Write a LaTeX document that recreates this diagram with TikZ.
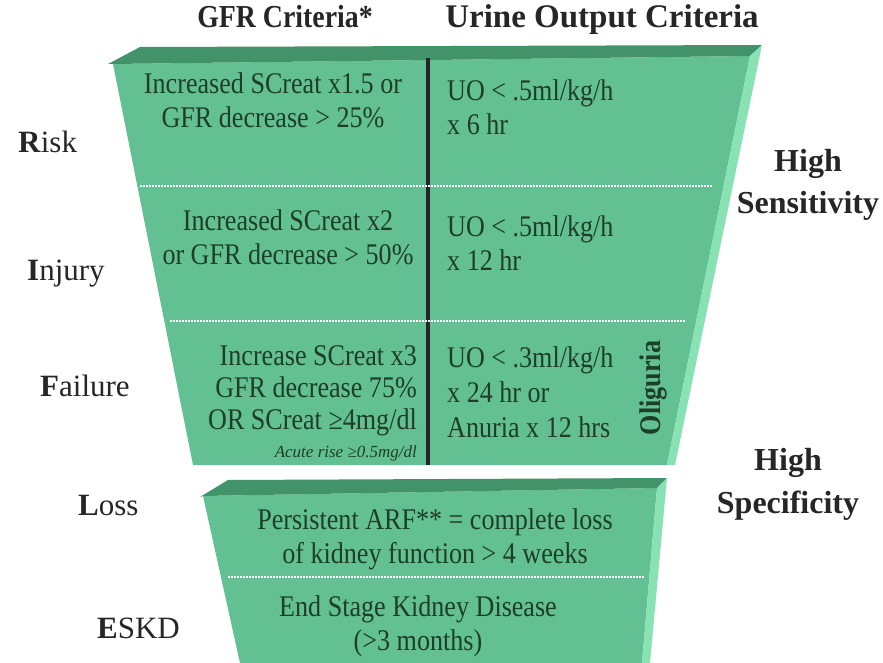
\documentclass[tikz,border=0pt]{standalone}
\usepackage{fontspec}
\setmainfont{Liberation Serif}
\newfontfamily\narrowfont{Liberation Serif}[FakeStretch=0.87]
\usepackage{tikz}
\usetikzlibrary{positioning}

\definecolor{rifgreen}{RGB}{98,192,146}
\definecolor{riftop}{RGB}{66,146,106}
\definecolor{rifedge}{RGB}{136,226,180}
\definecolor{rifink}{RGB}{30,62,42}
\definecolor{labelink}{RGB}{38,38,38}

\begin{document}
\begin{tikzpicture}[
  x=1pt, y=-1pt,
  crit/.style={font=\narrowfont\fontsize{30}{34}\selectfont, text=rifink, inner sep=0pt},
  stage/.style={font=\rmfamily\fontsize{31}{34}\selectfont, text=labelink, inner sep=0pt, anchor=base west},
  side/.style={font=\rmfamily\bfseries\fontsize{32}{43}\selectfont, text=labelink, inner sep=0pt, align=center, anchor=base},
  head/.style={font=\rmfamily\bfseries\fontsize{33}{34}\selectfont, text=labelink, inner sep=0pt, anchor=base},
  sep/.style={white, line width=2.6pt, dash pattern=on 1.5pt off 1.5pt},
]
\useasboundingbox (0,0) rectangle (883,663);

% Upper funnel
\fill[rifgreen] (113,64) -- (750,56) -- (667,465) -- (193,465) -- cycle;
\fill[riftop] (108,64) -- (140,47) -- (762,45) -- (750,56) -- (113,64) -- cycle;
\fill[rifedge] (750,56) -- (762,45) -- (675,465) -- (667,465) -- cycle;

% Lower block
\fill[rifgreen] (203,496) -- (657,488) -- (642,663) -- (240,663) -- cycle;
\fill[riftop] (200,497) -- (228,480) -- (667,478) -- (657,488) -- (203,496) -- cycle;
\fill[rifedge] (657,488) -- (667,478) -- (650,663) -- (642,663) -- cycle;

% Divider and row separators
\draw[line width=4pt, black!85] (428,58) -- (428,465);
\draw[sep] (140,186) -- (712,186);
\draw[sep] (170,321) -- (686,321);
\draw[sep] (228,577) -- (645,577);

% Headers
\node[head, font=\narrowfont\bfseries\fontsize{32}{34}\selectfont] (gfrhead) at (285,28) {GFR Criteria*};
\node[head] (uohead) at (602,28) {Urine Output Criteria};

% Risk
\node[crit, align=center, anchor=base] (riskgfr) at (273,128)
  {Increased SCreat x1.5 or\\GFR decrease > 25\%};
\node[crit, align=left, anchor=base west] (riskuo) at (447,135)
  {UO < .5ml/kg/h\\x 6 hr};

% Injury
\node[crit, align=center, anchor=base] (injgfr) at (288,264)
  {Increased SCreat x2\\or GFR decrease > 50\%};
\node[crit, align=left, anchor=base west] (injuo) at (447,270)
  {UO < .5ml/kg/h\\x 12 hr};

% Failure
\node[crit, align=right, anchor=base east, font=\narrowfont\fontsize{30}{32}\selectfont] (failgfr) at (417,429)
  {Increase SCreat x3\\GFR decrease 75\%\\OR SCreat ≥4mg/dl};
\node[crit, anchor=base east, font=\rmfamily\itshape\fontsize{17}{18}\selectfont] (acute) at (417,457)
  {Acute rise ≥0.5mg/dl};
\node[crit, align=left, anchor=base west, font=\narrowfont\fontsize{30}{35}\selectfont] (failuo) at (447,437)
  {UO < .3ml/kg/h\\x 24 hr or\\Anuria x 12 hrs};
\node[crit, font=\narrowfont\bfseries\fontsize{30}{32}\selectfont, rotate=90] (oliguria) at (653,388) {Oliguria};

% Loss and ESKD
\node[crit, align=center, anchor=base] (loss) at (435,563)
  {Persistent ARF** = complete loss\\of kidney function > 4 weeks};
\node[crit, align=center, anchor=base] (eskd) at (418,650)
  {End Stage Kidney Disease\\(>3 months)};

% Stage names
\node[stage] (risk) at (18,153) {\textbf{R}isk};
\node[stage] (injury) at (27,280) {\textbf{I}njury};
\node[stage] (failure) at (40,396) {\textbf{F}ailure};
\node[stage] (lossname) at (78,515) {\textbf{L}oss};
\node[stage] (eskdname) at (97,638) {\textbf{E}SKD};

% Sensitivity / specificity
\node[side] (sens) at (808,214) {High\\Sensitivity};
\node[side] (spec) at (788,513) {High\\Specificity};
\end{tikzpicture}
\end{document}
